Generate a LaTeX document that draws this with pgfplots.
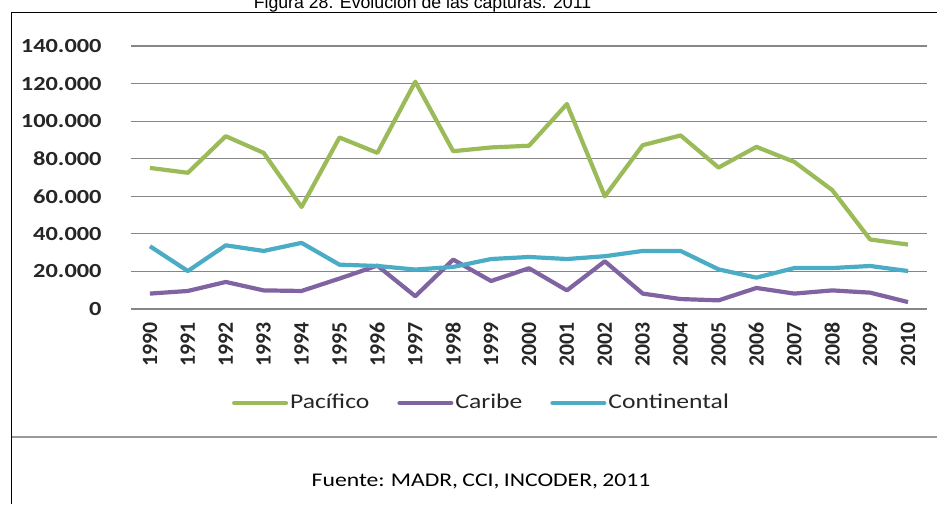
\documentclass[border=0pt]{standalone}
\usepackage{fontspec}
\usepackage{pgfplots}
\pgfplotsset{compat=1.18}
\setmainfont{Carlito}
\newfontfamily\calw{Carlito}[FakeStretch=1.22,WordSpace=0.8]
\newfontfamily\arial{Liberation Sans}
\definecolor{pac}{HTML}{9BBB59}
\definecolor{car}{HTML}{8064A2}
\definecolor{con}{HTML}{4BACC6}
\definecolor{gridgray}{RGB}{134,134,134}

\pgfplotstableread{
year pac car con
1990 75100 8200 33400
1991 72500 9600 20200
1992 92000 14400 33900
1993 83100 9900 30900
1994 54300 9600 35200
1995 91300 16200 23600
1996 83100 23100 22900
1997 121000 6800 21000
1998 84000 26300 22400
1999 86000 14900 26600
2000 86900 21700 27700
2001 109100 9900 26600
2002 60000 25400 28100
2003 87200 8200 30900
2004 92400 5300 30900
2005 75300 4600 21100
2006 86300 11200 16700
2007 78300 8200 21800
2008 63300 9900 21800
2009 37000 8700 22900
2010 34300 3700 20200
}\capturas

\begin{document}
\begin{tikzpicture}
\useasboundingbox (0,0) rectangle (468.5pt,252pt);
% marco de la figura
\draw[black,line width=0.7pt] (5.75pt,0pt) -- (5.75pt,245.85pt) -- (470pt,245.85pt);
\draw[gray!80,line width=0.7pt] (5.75pt,33.5pt) -- (470pt,33.5pt);
\node[font=\arial\fontsize{8.85}{10}\selectfont,anchor=base,inner sep=0pt] at (211.25pt,247.6pt)
  {Figura 28. Evolución de las capturas. 2011};
\node[font=\calw\fontsize{9.7}{11}\selectfont,inner sep=0pt] at (240.5pt,11.2pt)
  {Fuente: MADR, CCI, INCODER, 2011};
\begin{axis}[
  at={(65.5pt,97.5pt)},anchor=south west,
  scale only axis,width=398pt,height=131.5pt,
  xmin=1989.5,xmax=2010.5,ymin=0,ymax=140000,
  axis line style={draw=none},
  major tick length=0pt,
  xtick={1990,...,2010},
  ytick={0,20000,...,140000},
  ymajorgrids,
  y grid style={draw=gridgray,line width=0.6pt},
  scaled y ticks=false,
  /pgf/number format/.cd,fixed,precision=0,1000 sep={.},assume math mode=true,
  /pgfplots/.cd,
  xticklabel={\pgfmathprintnumber[1000 sep={}]{\tick}},
  xticklabel style={font=\bfseries\fontsize{10.9}{12}\selectfont,yshift=-6.3pt,rotate=90,anchor=east,inner sep=0pt,text=black!85},
  yticklabel style={font=\calw\bfseries\fontsize{10}{12}\selectfont,anchor=east,inner sep=0pt,xshift=-14.5pt,text=black!85},
  legend columns=3,
  legend style={draw=none,fill=none,at={(0.4403,-0.3574)},anchor=center,
    font=\calw\fontsize{10.5}{12}\selectfont,text=black!85,
    nodes={inner xsep=1pt,inner ysep=1pt},
    /tikz/every odd column/.append style={column sep=0pt},
    /tikz/every even column/.append style={column sep=13pt}},
  legend image code/.code={\draw[#1,line width=2pt,line cap=round] (0pt,0pt) -- (26pt,0pt);},
  every axis plot/.append style={line width=2.1pt,line join=round,no markers},
]
\addplot[pac] table[x=year,y=pac] {\capturas};
\addlegendentry{Pacífico}
\addplot[car] table[x=year,y=car] {\capturas};
\addlegendentry{Caribe}
\addplot[con] table[x=year,y=con] {\capturas};
\addlegendentry{Continental}
\end{axis}
\end{tikzpicture}
\end{document}
